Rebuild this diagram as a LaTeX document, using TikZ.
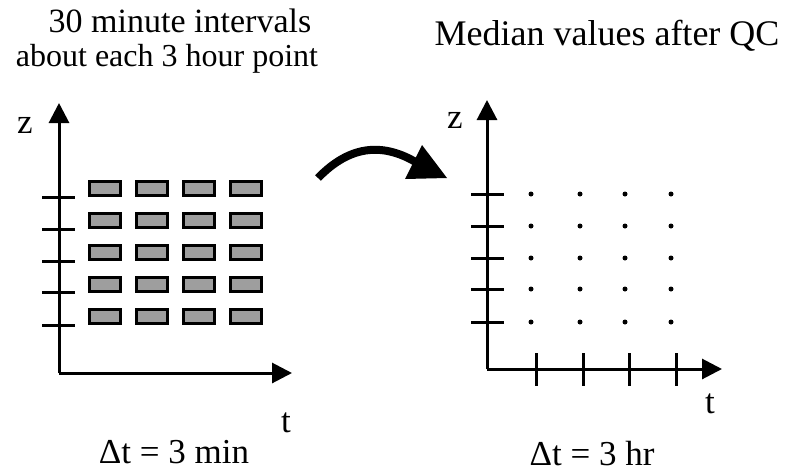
\documentclass[tikz,border=0pt]{standalone}
\usepackage{fontspec}
\setmainfont{Liberation Serif}
\usetikzlibrary{arrows.meta}
\begin{document}
\begin{tikzpicture}[x=1pt,y=-1pt,
  axis/.style={line width=3pt,-{Triangle[length=20pt,width=20pt]}},
  tick/.style={line width=3pt},
  cell/.style={draw=black,line width=3pt,fill=black!38,minimum width=31pt,minimum height=14pt,inner sep=0pt},
  dotn/.style={circle,fill=black,inner sep=0pt,minimum size=5pt},
  lbl/.style={font=\fontsize{32}{38}\selectfont,inner sep=0pt,anchor=base},
  lbltop/.style={font=\fontsize{34}{40}\selectfont,inner sep=0pt,anchor=base},
  lblbig/.style={font=\fontsize{36}{42}\selectfont,inner sep=0pt,anchor=base},
  lblmid/.style={font=\fontsize{35}{42}\selectfont,inner sep=0pt,anchor=base}]
\useasboundingbox (0,0) rectangle (788,474);
% titles
\node[lbltop] (t1) at (180,32) {30 minute intervals};
\node[lbl] (t2) at (167,66) {about each 3 hour point};
\node[lblbig] (t3) at (607,45) {Median values after QC};
% left axes
\coordinate (lo) at (59,373);
\coordinate (ly) at (59,103);
\coordinate (lx) at (292,373);
\draw[axis] (lo) -- (ly);
\draw[axis] (lo) -- (lx);
\foreach \y [count=\i] in {197,229,261,292,325}{
  \coordinate (la\i) at (42,\y); \coordinate (lb\i) at (75,\y);
  \draw[tick] (la\i) -- (lb\i);
}
\foreach \x [count=\c] in {105,151.5,198.5,245.5}{
  \foreach \y [count=\r] in {188.5,220,252,284,316.5}{
    \node[cell] (box\c\r) at (\x,\y) {};
  }
}
\node[lblmid] (zl) at (25,133) {z};
\node[lblmid] (tl) at (286,432) {t};
\node[lblmid] (dl) at (174,463) {Δt = 3 min};
% right axes
\coordinate (ro) at (487,369);
\coordinate (ry) at (487,100);
\coordinate (rx) at (722,369);
\draw[axis] (ro) -- (ry);
\draw[axis] (ro) -- (rx);
\foreach \y [count=\i] in {194,226,258,289,322}{
  \coordinate (ra\i) at (471,\y); \coordinate (rb\i) at (504,\y);
  \draw[tick] (ra\i) -- (rb\i);
}
\foreach \x [count=\i] in {536,583,629,676}{
  \coordinate (rt\i) at (\x,353); \coordinate (rs\i) at (\x,386);
  \draw[tick] (rt\i) -- (rs\i);
}
\foreach \x [count=\c] in {531,580,625,671}{
  \foreach \y [count=\r] in {194,226,258,289,322}{
    \node[dotn] (dot\c\r) at (\x,\y) {};
  }
}
\node[lblmid] (zr) at (455,128) {z};
\node[lblmid] (tr) at (710,413) {t};
\node[lblmid] (dr) at (592,465) {Δt = 3 hr};
% curved arrow
\coordinate (cs) at (318,178);
\coordinate (ce) at (425,168);
\draw[line width=8pt] (cs) .. controls (350,145) and (385,140) .. (ce);
\fill (422,145) -- (447,178) -- (405,179) -- cycle;
\end{tikzpicture}
\end{document}
